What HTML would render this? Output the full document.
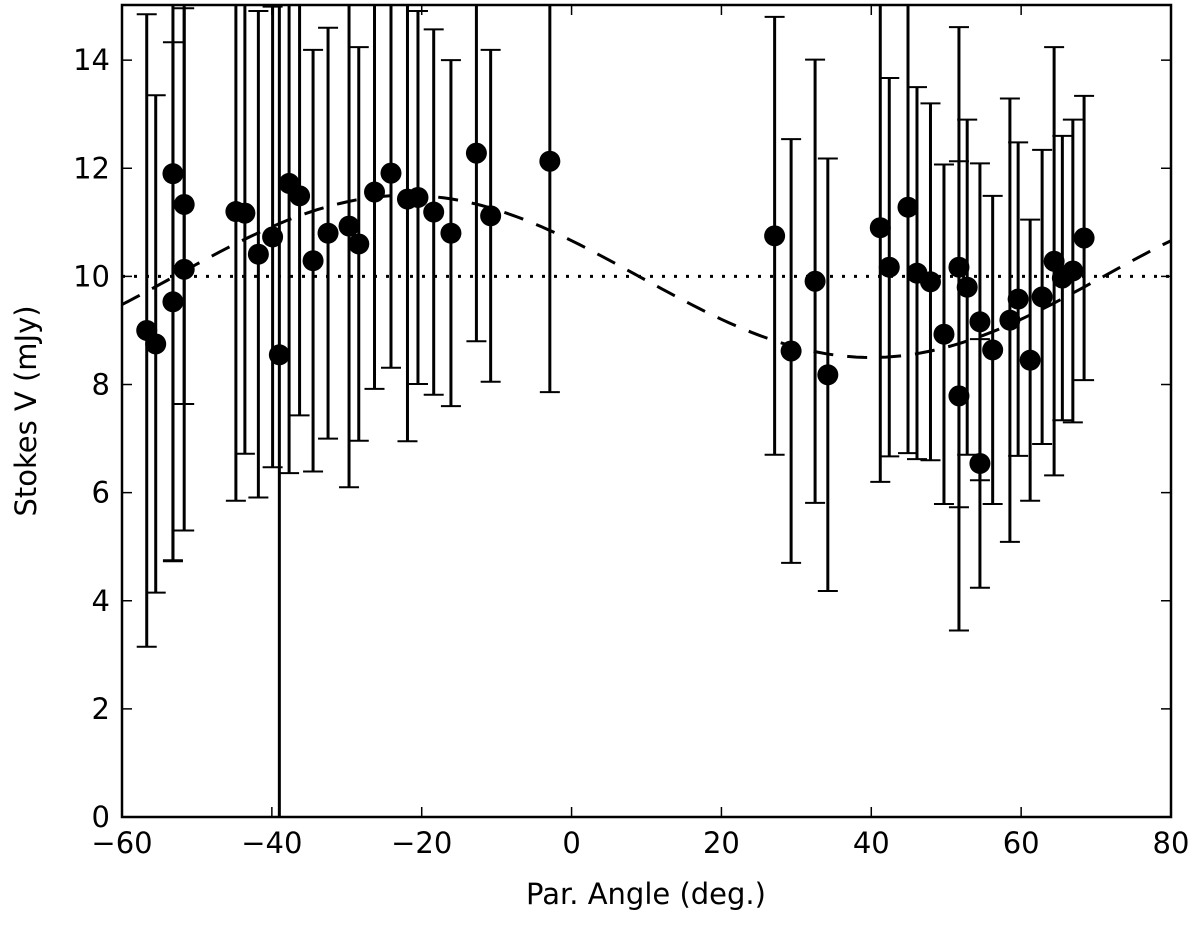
<!DOCTYPE html>
<html><head><meta charset="utf-8"><style>
html,body{margin:0;padding:0;background:#fff;}
svg{display:block;font-family:"DejaVu Sans","Liberation Sans",sans-serif;}
</style></head><body>
<svg id="chart" width="1200" height="925" viewBox="0 0 1200 925" xmlns="http://www.w3.org/2000/svg">
<g id="marks"></g>
<rect x="122" y="5" width="1049" height="812" fill="none" stroke="#000" stroke-width="2.5"/>
<g id="axes"></g>
<text x="646" y="904" font-size="29" text-anchor="middle">Par. Angle (deg.)</text>
<text transform="translate(36,411) rotate(-90)" font-size="29" text-anchor="middle">Stokes V (mJy)</text>
</svg>
<script>
const angles=[-56.7,-55.5,-53.2,-53.2,-51.7,-51.7,-44.8,-43.6,-41.8,-39.9,-39.0,-37.7,-36.3,-34.5,-32.5,-29.7,-28.4,-26.3,-24.1,-21.9,-20.5,-18.4,-16.1,-12.7,-10.8,-2.9,27.1,29.3,32.5,34.2,41.2,42.4,44.9,46.1,47.9,49.7,51.7,51.7,52.8,54.5,54.5,56.2,58.5,59.6,61.2,62.8,64.4,65.5,66.9,68.4];
const values=[9.0,8.75,11.9,9.53,11.33,10.13,11.2,11.17,10.41,10.73,8.55,11.72,11.49,10.29,10.8,10.93,10.6,11.56,11.91,11.43,11.46,11.19,10.8,12.28,11.12,12.13,10.75,8.62,9.91,8.18,10.9,10.17,11.28,10.06,9.9,8.93,10.17,7.79,9.8,9.16,6.54,8.64,9.19,9.58,8.45,9.62,10.28,9.97,10.1,10.71];
const errors=[5.85,4.6,7.15,4.8,3.69,4.83,5.35,4.45,4.5,4.26,9.5,5.36,4.06,3.9,3.8,4.83,3.64,3.64,3.6,4.48,3.45,3.38,3.2,3.48,3.07,4.27,4.05,3.92,4.1,4.0,4.7,3.5,4.55,3.44,3.3,3.14,4.44,4.34,3.1,2.93,2.3,2.85,4.1,2.9,2.6,2.72,3.96,2.63,2.8,2.63];
const xTicks=[-60,-40,-20,0,20,40,60,80];
const yTicks=[0,2,4,6,8,10,12,14];
const constLevel=[10];
const modelParams=[10,1.5,-22,124]; // center, amplitude, phase (deg), period (deg)
const X0=122,X1=1171,Y0=817,Y1=5,XMIN=-60,XMAX=80,YMIN=0,YMAX=15.02;
const sx=v=>X0+(v-XMIN)/(XMAX-XMIN)*(X1-X0);
const sy=v=>Y0-(v-YMIN)/(YMAX-YMIN)*(Y0-Y1);
const NS="http://www.w3.org/2000/svg";
const marks=document.getElementById('marks'),axes=document.getElementById('axes');
function mk(tag,attrs,parent){const e=document.createElementNS(NS,tag);for(const k in attrs)e.setAttribute(k,attrs[k]);parent.appendChild(e);return e;}
const clip=mk('clipPath',{id:'clip'},marks);mk('rect',{x:X0,y:Y1,width:X1-X0,height:Y0-Y1},clip);
const g=mk('g',{'clip-path':'url(#clip)'},marks);
// constant line
const hl=mk('line',{x1:X0,x2:X1,y1:sy(constLevel[0]),y2:sy(constLevel[0]),stroke:'#000','stroke-width':3,'stroke-dasharray':'3 9'},g);


// model curve
let d='';for(let a=XMIN;a<=XMAX;a+=1){const v=modelParams[0]+modelParams[1]*Math.cos(2*Math.PI*(a-modelParams[2])/modelParams[3]);d+=(d?'L':'M')+sx(a).toFixed(1)+' '+sy(v).toFixed(1);}
const mp=mk('path',{d:d,fill:'none',stroke:'#000','stroke-width':3,'stroke-dasharray':'20 14'},g);


angles.forEach((a,i)=>{const x=sx(a),yt=sy(values[i]+errors[i]),yb=sy(values[i]-errors[i]);
const eb=mk('g',{},g);


mk('line',{x1:x,x2:x,y1:yt,y2:yb,stroke:'#000','stroke-width':3},eb);
mk('line',{x1:x-10,x2:x+10,y1:yt,y2:yt,stroke:'#000','stroke-width':2},eb);
mk('line',{x1:x-10,x2:x+10,y1:yb,y2:yb,stroke:'#000','stroke-width':2},eb);});
angles.forEach((a,i)=>{const c=mk('circle',{cx:sx(a),cy:sy(values[i]),r:10.5,fill:'#000'},g);

});
xTicks.forEach(t=>{const x=sx(t);
mk('line',{x1:x,x2:x,y1:Y0,y2:Y0-10,stroke:'#000','stroke-width':1.5},axes);
mk('line',{x1:x,x2:x,y1:Y1,y2:Y1+10,stroke:'#000','stroke-width':1.5},axes);
const tx=mk('text',{x:x,y:853,'font-size':29,'text-anchor':'middle'},axes);tx.textContent=(t<0?'\u2212'+(-t):t);

});
yTicks.forEach(t=>{const y=sy(t);
mk('line',{x1:X0,x2:X0+10,y1:y,y2:y,stroke:'#000','stroke-width':1.5},axes);
mk('line',{x1:X1,x2:X1-10,y1:y,y2:y,stroke:'#000','stroke-width':1.5},axes);
const tx=mk('text',{x:110,y:y+10,'font-size':29,'text-anchor':'end'},axes);tx.textContent=t;

});
</script>
</body></html>
